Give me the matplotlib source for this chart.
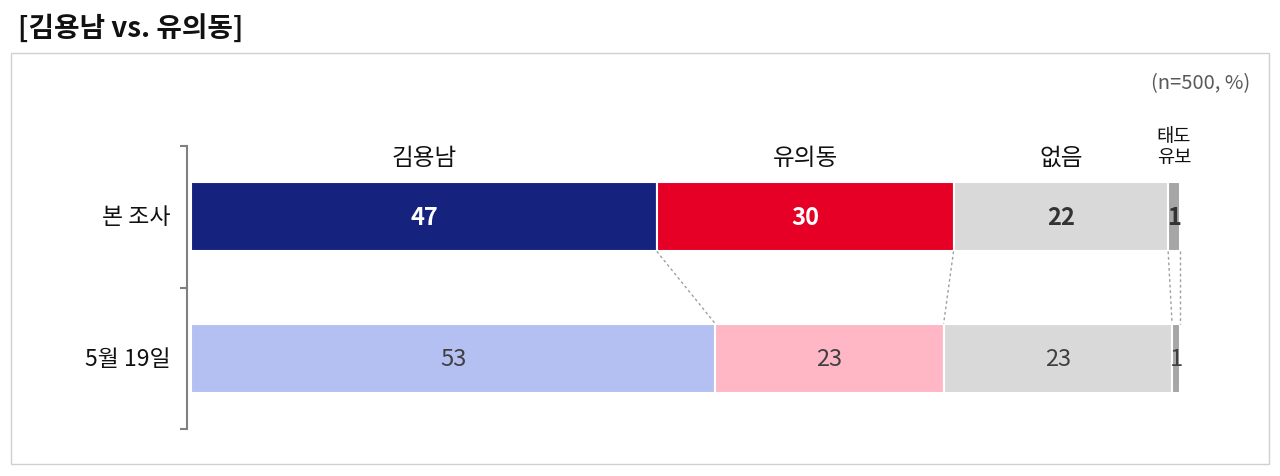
import matplotlib
matplotlib.use("Agg")
import matplotlib.pyplot as plt
from matplotlib.patches import Rectangle

plt.rcParams['font.family'] = ['Noto Sans CJK KR', 'DejaVu Sans']

title = "[김용남 vs. 유의동]"
note = "(n=500, %)"
rows = ["본 조사", "5월 19일"]
series = ["김용남", "유의동", "없음", "태도\n유보"]
current = [47.1, 30.0, 21.7, 1.2]
previous = [53.0, 23.1, 23.1, 0.8]
current_labels = ["47", "30", "22", "1"]
previous_labels = ["53", "23", "23", "1"]

colors_cur = ["#15237F", "#E60026", "#D9D9D9", "#A6A6A6"]
colors_prev = ["#B4BFF2", "#FFB7C5", "#D9D9D9", "#A6A6A6"]
text_cur = ["white", "white", "#333333", "#333333"]

W, H = 1280, 477
fig = plt.figure(figsize=(W / 100, H / 100), dpi=100)

# frame
fig.patches.append(Rectangle((11 / W, 1 - 465 / H), (1269 - 11) / W, (465 - 54) / H,
                             transform=fig.transFigure, fill=False,
                             edgecolor="#D0D0D0", linewidth=1.0))

fig.text(18 / W, 1 - 28 / H, title, fontsize=20, fontweight='bold',
         ha='left', va='center', color="#111111")
fig.text(1250 / W, 1 - 84 / H, note, fontsize=14.5, ha='right', va='center',
         color="#595959")

ax = fig.add_axes([191 / W, 1 - 430 / H, 989 / W, 283 / H])
ax.set_xlim(0, 100)
ax.set_ylim(1.5, -0.5)

bh = 0.49
for yi, (vals, cols, labs, tcols, bold) in enumerate([
        (current, colors_cur, current_labels, text_cur, True),
        (previous, colors_prev, previous_labels, ["#404040"] * 4, False)]):
    left = 0
    for v, c, lab, tc in zip(vals, cols, labs, tcols):
        ax.barh(yi, v, left=left, height=bh, color=c, edgecolor='white', linewidth=1.5)
        ax.text(left + v / 2, yi, lab, ha='center', va='center', fontsize=17,
                color=tc, fontweight='bold' if bold else 'normal')
        left += v

# connectors
cum_c = 0
cum_p = 0
for i in range(len(current)):
    cum_c += current[i]
    cum_p += previous[i]
    ax.plot([cum_c, cum_p], [bh / 2, 1 - bh / 2], linestyle=(0, (2, 2)),
            color="#A0A0A0", linewidth=1.0, clip_on=False)

# series headers
left = 0
for i, (v, s) in enumerate(zip(current, series)):
    yy = -0.42 if i < 3 else -0.50
    ax.text(left + v / 2, yy, s, ha='center', va='center', fontsize=17 if i < 3 else 13.5,
            color="#111111", linespacing=1.05, clip_on=False)
    left += v

# axis
for s in ['top', 'right', 'bottom']:
    ax.spines[s].set_visible(False)
ax.spines['left'].set_position(('outward', 3))
ax.spines['left'].set_color("#808080")
ax.spines['left'].set_linewidth(1.5)
ax.set_xticks([])
ax.set_yticks([-0.5, 0.5, 1.5])
ax.set_yticklabels([])
ax.tick_params(axis='y', length=5, width=1.5, color="#808080")
for yi, r in enumerate(rows):
    ax.text(-2.1, yi, r, ha='right', va='center', fontsize=16.5, color="#111111")

fig.savefig("out.png", dpi=100)
